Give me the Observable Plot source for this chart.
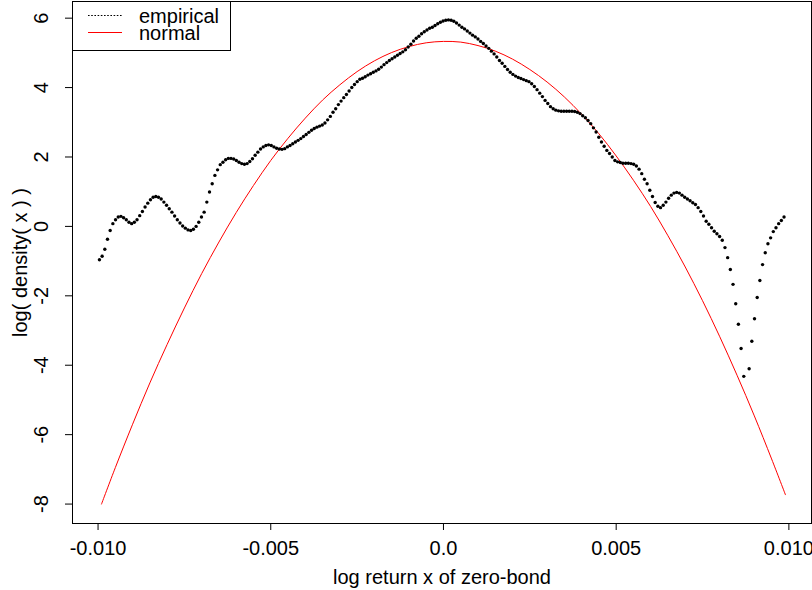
<!DOCTYPE html>
<html>
<head>
<meta charset="utf-8">
<script src="https://cdn.jsdelivr.net/npm/d3@7"></script>
<script src="https://cdn.jsdelivr.net/npm/@observablehq/plot@0.6"></script>
<style>
  html, body { margin: 0; padding: 0; background: #fff; }
  #wrap { position: relative; width: 812px; height: 590px; font-family: "Liberation Sans", Arial, Helvetica, sans-serif; }
  #legend { position: absolute; left: 72px; top: 1px; }
</style>
</head>
<body>
<div id="wrap"></div>
<script>
// ---- data ----
const xTicks = [-0.01, -0.005, 0, 0.005, 0.01];
const xTickLabels = ["-0.010", "-0.005", "0.0", "0.005", "0.010"];
const yTicks = [-8, -6, -4, -2, 0, 2, 4, 6];
const yTickLabels = ["-8", "-6", "-4", "-2", "0", "2", "4", "6"];
const xTitle = "log return x of zero-bond";
const yTitle = "log( density( x ) )";
const seriesNames = ["empirical", "normal"];

// empirical log-density, evaluated on an even grid from empFrom to empTo
const empFrom = -0.00996;
const empTo = 0.00986;
const empY = [
  -0.96,-0.86,-0.66,-0.37,-0.12,0.08,0.19,0.27,0.29,0.25,
  0.19,0.12,0.08,0.12,0.19,0.31,0.43,0.56,0.67,
  0.77,0.84,0.86,0.84,0.79,0.70,0.61,0.51,0.41,0.30,
  0.19,0.10,0.01,-0.05,-0.10,-0.12,-0.08,0.00,0.12,
  0.27,0.41,0.70,0.99,1.23,1.47,1.63,1.78,1.85,1.92,
  1.96,1.96,1.94,1.90,1.85,1.81,1.79,1.81,1.87,1.95,
  2.05,2.14,2.23,2.29,2.33,2.35,2.33,2.29,2.25,2.23,
  2.22,2.24,2.29,2.33,2.38,2.43,2.48,2.53,2.59,2.65,
  2.71,2.77,2.82,2.86,2.89,2.92,2.98,3.07,3.17,3.29,
  3.39,3.51,3.61,3.71,3.80,3.90,4.00,4.09,4.17,4.24,
  4.27,4.31,4.36,4.40,4.44,4.48,4.53,4.59,4.66,4.72,
  4.78,4.83,4.88,4.93,4.98,5.03,5.09,5.17,5.25,5.34,
  5.42,5.48,5.55,5.61,5.66,5.71,5.74,5.79,5.84,5.88,
  5.92,5.94,5.95,5.94,5.91,5.86,5.80,5.74,5.69,5.63,
  5.57,5.51,5.46,5.40,5.33,5.27,5.20,5.13,5.05,4.97,
  4.88,4.78,4.70,4.61,4.52,4.44,4.38,4.33,4.29,4.26,
  4.23,4.20,4.17,4.11,4.03,3.94,3.84,3.74,3.63,3.54,
  3.45,3.39,3.35,3.33,3.32,3.32,3.32,3.32,3.32,3.31,
  3.29,3.25,3.19,3.13,3.05,2.96,2.84,2.72,2.57,2.43,
  2.31,2.19,2.10,2.00,1.90,1.86,1.84,1.82,1.82,1.82,
  1.81,1.79,1.74,1.65,1.52,1.36,1.23,1.04,0.86,0.69,
  0.58,0.54,0.61,0.70,0.81,0.90,0.96,0.98,0.96,0.90,
  0.84,0.79,0.74,0.68,0.63,0.54,0.43,0.30,0.15,0.06,
  -0.04,-0.14,-0.21,-0.29,-0.40,-0.61,-0.90,-1.24,-1.67,-2.23,
  -2.82,-3.52,-4.32,null,-4.10,-3.31,-2.66,-2.05,-1.56,-1.10,
  -0.76,-0.50,-0.33,-0.15,-0.04,0.08,0.17,0.27
];

// fitted normal log-density (red curve), sampled along the picture
const normX = [
  -0.0099,-0.0095,-0.009,-0.0085,-0.008,-0.0075,-0.007,-0.0065,-0.006,-0.0055,
  -0.005,-0.0045,-0.004,-0.0035,-0.003,-0.0025,-0.002,-0.0015,-0.001,-0.0005,
  0,0.0005,0.001,0.0015,0.002,0.0025,0.003,0.0035,0.004,0.0045,
  0.005,0.0055,0.006,0.0065,0.007,0.0075,0.008,0.0085,0.009,0.0095,0.0099
];
const normY = [
  -8.00,-6.95,-5.70,-4.51,-3.40,-2.35,-1.36,-0.45,0.40,1.18,
  1.90,2.54,3.12,3.64,4.08,4.46,4.77,5.01,5.18,5.29,
  5.33,5.31,5.21,5.05,4.82,4.52,4.16,3.73,3.23,2.67,
  2.03,1.33,0.57,-0.27,-1.17,-2.14,-3.18,-4.29,-5.46,-6.70,-7.73
];

// ---- tables built from the arrays ----
const step = (empTo - empFrom) / (empY.length - 1);
const empirical = empY.map((y, i) => ({x: empFrom + i * step, y}));
const normal = normX.map((x, i) => ({x, y: normY[i]}));
const yTickRows = yTicks.map((v, i) => ({v, label: yTickLabels[i]}));

const FONT = "'Liberation Sans', Arial, Helvetica, sans-serif";

const chart = Plot.plot({
  width: 812,
  height: 590,
  marginLeft: 72,
  marginRight: 1,
  marginTop: 1,
  marginBottom: 67,
  style: {fontFamily: FONT, fontSize: "20px", color: "black", background: "white", overflow: "visible"},
  x: {domain: [-0.01074, 0.010655]},
  y: {domain: [-8.56, 6.48]},
  marks: [
    Plot.line(normal, {x: "x", y: "y", stroke: "#ff0000", strokeWidth: 1, curve: "catmull-rom"}),
    Plot.dot(empirical, {x: "x", y: "y", r: 1.7, fill: "black", stroke: null, filter: d => d.y != null}),
    Plot.axisX({ticks: xTicks, tickSize: 7, tickPadding: 10, tickFormat: (d) => xTickLabels[xTicks.indexOf(d)], label: null, fontSize: 20}),
    Plot.axisY({ticks: yTicks, tickSize: 7, tickFormat: () => "", label: null}),
    Plot.text(yTickRows, {y: "v", text: "label", frameAnchor: "left", dx: -31, rotate: -90, textAnchor: "middle", lineAnchor: "middle", fontSize: 20}),
    Plot.text([xTitle], {frameAnchor: "bottom", dy: 54, lineAnchor: "middle", textAnchor: "middle", fontSize: 20}),
    Plot.text([yTitle], {frameAnchor: "left", dx: -52, rotate: -90, lineAnchor: "middle", textAnchor: "middle", fontSize: 20}),
    Plot.frame({stroke: "black", strokeWidth: 1})
  ]
});

const wrap = document.getElementById("wrap");
wrap.appendChild(chart);

// legend (drawn over the top-left corner of the plot, as in the original)
const ns = "http://www.w3.org/2000/svg";
const leg = document.createElementNS(ns, "svg");
leg.setAttribute("id", "legend");
leg.setAttribute("width", 159);
leg.setAttribute("height", 50);
leg.innerHTML = `
  <rect x="0.5" y="0.5" width="158" height="49" fill="white" stroke="black" stroke-width="1"></rect>
  <line x1="16" x2="50" y1="14.5" y2="14.5" stroke="black" stroke-width="1.2" stroke-dasharray="1.6 1.6"></line>
  <line x1="16" x2="50" y1="31.5" y2="31.5" stroke="#ff0000" stroke-width="1"></line>
  <text x="67" y="14.5" dy="0.35em" font-family="${FONT}" font-size="20" fill="black">${seriesNames[0]}</text>
  <text x="67" y="31.5" dy="0.35em" font-family="${FONT}" font-size="20" fill="black">${seriesNames[1]}</text>
`;
wrap.appendChild(leg);
</script>
</body>
</html>
